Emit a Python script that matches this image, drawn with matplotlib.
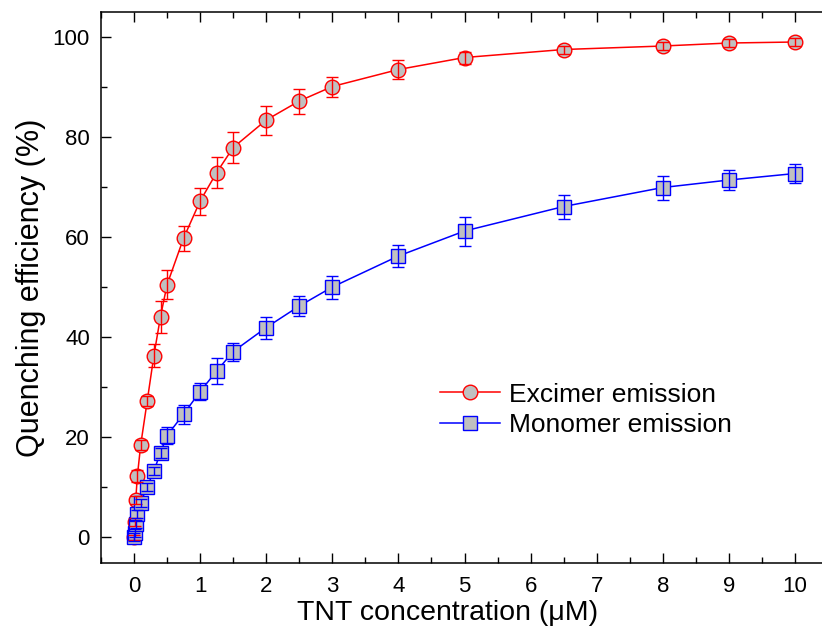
import matplotlib
matplotlib.use("Agg")
import matplotlib.pyplot as plt
from matplotlib.ticker import MultipleLocator

plt.rcParams['font.family'] = ['Liberation Sans', 'DejaVu Sans']

# TNT concentration (uM)
conc = [0, 0.01, 0.025, 0.05, 0.1, 0.2, 0.3, 0.4, 0.5, 0.75, 1, 1.25, 1.5,
        2, 2.5, 3, 4, 5, 6.5, 8, 9, 10]

# excimer emission quenching (%)
excimer = [0, 3.1, 7.4, 12.2, 18.4, 27.3, 36.3, 44.1, 50.5, 59.8, 67.2, 72.9,
           77.9, 83.4, 87.2, 90.1, 93.5, 95.9, 97.5, 98.2, 98.8, 99.0]
excimer_err = [0.5, 0.8, 0.8, 1.2, 1.0, 1.0, 2.3, 3.2, 2.9, 2.5, 2.7, 3.1,
               3.1, 2.9, 2.5, 2.0, 1.9, 1.2, 0.8, 0.8, 0.8, 0.8]

# monomer emission quenching (%)
monomer = [0, 0.9, 2.6, 4.6, 6.9, 10.1, 13.2, 16.9, 20.3, 24.6, 29.1, 33.2,
           37.1, 41.9, 46.2, 50.0, 56.2, 61.2, 66.1, 69.9, 71.4, 72.7]
monomer_err = [0.8, 0.8, 0.8, 0.8, 0.8, 0.8, 0.8, 1.0, 1.7, 1.9, 1.7, 2.6,
               1.8, 2.2, 2.0, 2.3, 2.2, 2.9, 2.4, 2.4, 2.0, 1.9]

fig = plt.figure(figsize=(8.22, 6.39), dpi=100)
ax = fig.add_axes([0.1229, 0.1189, 0.8844, 0.8623])

ax.plot(conc, excimer, color='#ff0000', lw=1.1, marker='o', ms=10.5,
        mfc='#c0c0c0', mec='#ff0000', mew=1.0, label='Excimer emission', zorder=2)
ax.errorbar(conc, excimer, yerr=excimer_err, fmt='none', ecolor='#ff0000',
            elinewidth=1.0, capsize=4, capthick=1.0, zorder=3)

ax.plot(conc, monomer, color='#0000ff', lw=1.1, marker='s', ms=9.5,
        mfc='#c0c0c0', mec='#0000ff', mew=1.0, label='Monomer emission', zorder=2)
ax.errorbar(conc, monomer, yerr=monomer_err, fmt='none', ecolor='#0000ff',
            elinewidth=1.0, capsize=4, capthick=1.0, zorder=3)

ax.set_xlim(-0.5, 10.5)
ax.set_ylim(-5.2, 105)
ax.xaxis.set_major_locator(MultipleLocator(1))
ax.xaxis.set_minor_locator(MultipleLocator(0.5))
ax.yaxis.set_major_locator(MultipleLocator(20))
ax.yaxis.set_minor_locator(MultipleLocator(10))

for s in ax.spines.values():
    s.set_linewidth(1.1)
ax.tick_params(which='both', direction='in', top=True, right=False,
               width=1.0, labelsize=16)
ax.tick_params(axis='x', which='major', pad=9)
ax.tick_params(axis='y', which='major', pad=8)
ax.tick_params(which='major', length=7)
ax.tick_params(which='minor', length=4)

ax.set_xlabel('TNT concentration (\u03bcM)', fontsize=20.5)
ax.xaxis.set_label_coords(0.477, -0.068)
ax.set_ylabel('Quenching efficiency (%)', fontsize=22, labelpad=5)

ax.legend(loc='center left', bbox_to_anchor=(440 / 822, 1 - 410 / 639),
          bbox_transform=fig.transFigure, frameon=False, borderaxespad=0,
          borderpad=0, fontsize=19, handlelength=2.27, handletextpad=0.35,
          labelspacing=0.25)

plt.savefig('out.png', dpi=100)
